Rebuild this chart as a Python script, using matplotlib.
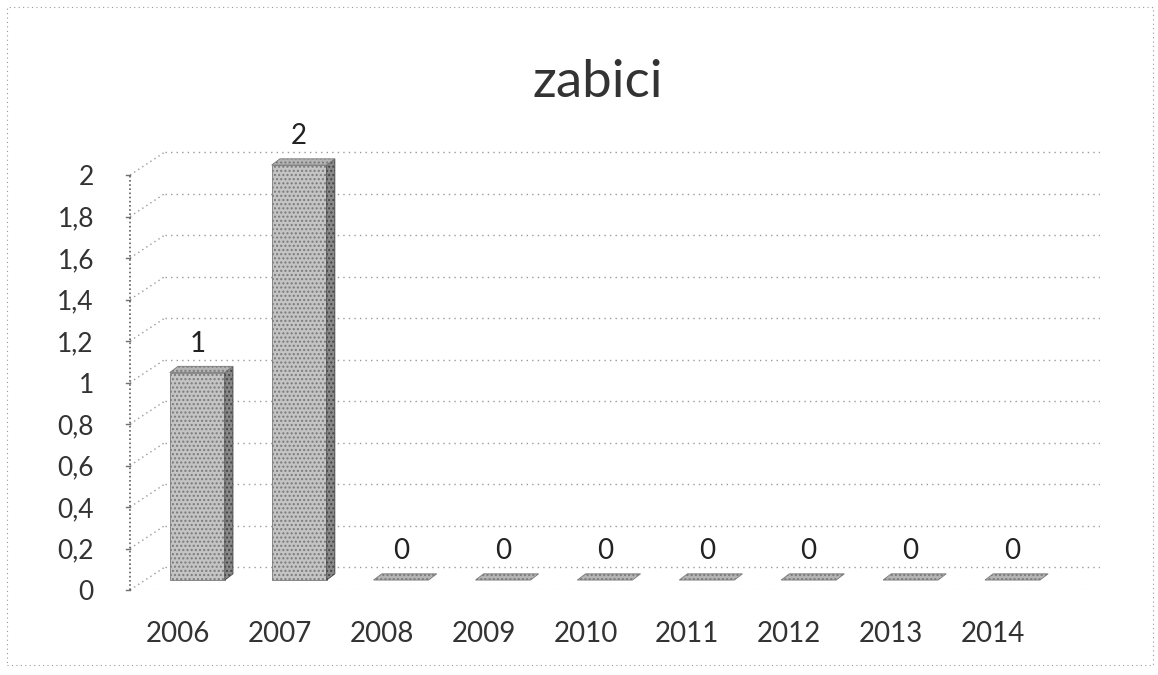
import matplotlib
matplotlib.use("Agg")
import matplotlib.pyplot as plt
from matplotlib.patches import Polygon, Rectangle
import numpy as np

title = "zabici"
categories = ["2006", "2007", "2008", "2009", "2010", "2011", "2012", "2013", "2014"]
values = [1, 2, 0, 0, 0, 0, 0, 0, 0]
yticks = [0, 0.2, 0.4, 0.6, 0.8, 1.0, 1.2, 1.4, 1.6, 1.8, 2.0]
ytick_labels = ["0", "0,2", "0,4", "0,6", "0,8", "1", "1,2", "1,4", "1,6", "1,8", "2"]

plt.rcParams['font.family'] = ['Lato', 'DejaVu Sans']

fig = plt.figure(figsize=(11.58, 6.75), dpi=100)
fig.patch.set_facecolor("white")
ax = fig.add_axes([0.1123, 0.1259, 0.8377, 0.6763])
ax.set_xlim(-0.66, 8.86)
ax.set_ylim(0, 2.2)
for s in ax.spines.values():
    s.set_visible(False)

x = np.arange(len(categories))
# back wall offsets (perspective)
wdx, wdy = 0.34, 0.11
grid_col = "#9a9a9a"
for t in yticks:
    ax.plot([-0.66 + wdx, 8.86], [t + wdy, t + wdy], ls=(0, (1, 3)), lw=1.0, color=grid_col, zorder=1)
    ax.plot([-0.66, -0.66 + wdx], [t, t + wdy], ls=(0, (1, 2.5)), lw=1.0, color=grid_col, zorder=1)
    ax.plot([-0.70, -0.66], [t, t], lw=1.0, color="#707070", zorder=1, clip_on=False)
# left axis line
ax.plot([-0.66, -0.66], [0, 2.0], ls=(0, (1, 1.5)), lw=1.2, color="#606060", zorder=1, clip_on=False)
ax.plot([-0.66, 8.86], [0, 0], ls=(0, (1, 4)), lw=0.8, color="#b0b0b0", zorder=1)

# pseudo-3D bars (set back in depth, so their base sits slightly above the front floor edge)
base = 0.048
bw = 0.54
bdx, bdy = 0.08, 0.03
for xi, v in zip(x, values):
    l, r = xi - bw / 2, xi + bw / 2
    top = v + base
    if v > 0:
        ax.add_patch(Rectangle((l, base), bw, v, facecolor="#c4c4c4", edgecolor="#7a7a7a",
                               hatch="....", lw=0.6, zorder=3))
        ax.add_patch(Polygon([[r, base], [r + bdx, base + bdy], [r + bdx, top + bdy], [r, top]],
                             closed=True, facecolor="#8a8a8a", edgecolor="#444444",
                             hatch="....", lw=0.6, zorder=3))
    ax.add_patch(Polygon([[l, top], [r, top], [r + bdx, top + bdy], [l + bdx, top + bdy]],
                         closed=True, facecolor="#b5b5b5", edgecolor="#7a7a7a",
                         hatch="....", lw=0.6, zorder=4))
    ax.text(xi, top + 0.14, f"{v}", ha="center", va="center",
            fontsize=20, color="#222222", zorder=5)

ax.set_yticks(yticks)
ax.set_yticklabels(ytick_labels, fontsize=19, color="#333333")
ax.set_xticks(x - 0.19)
ax.set_xticklabels(categories, fontsize=20, color="#333333")
ax.tick_params(axis="y", length=0, pad=26)
ax.tick_params(axis="x", length=0, pad=22)

fig.text(0.516, 0.878, title, ha="center", va="center", fontsize=38, color="#333333")

# scanned frame
fig.add_artist(Rectangle((0.006, 0.015), 0.99, 0.975, transform=fig.transFigure,
                         fill=False, ls=(0, (1, 3)), lw=0.8, edgecolor="#999999"))

fig.savefig("out.png", dpi=100, facecolor="white")
